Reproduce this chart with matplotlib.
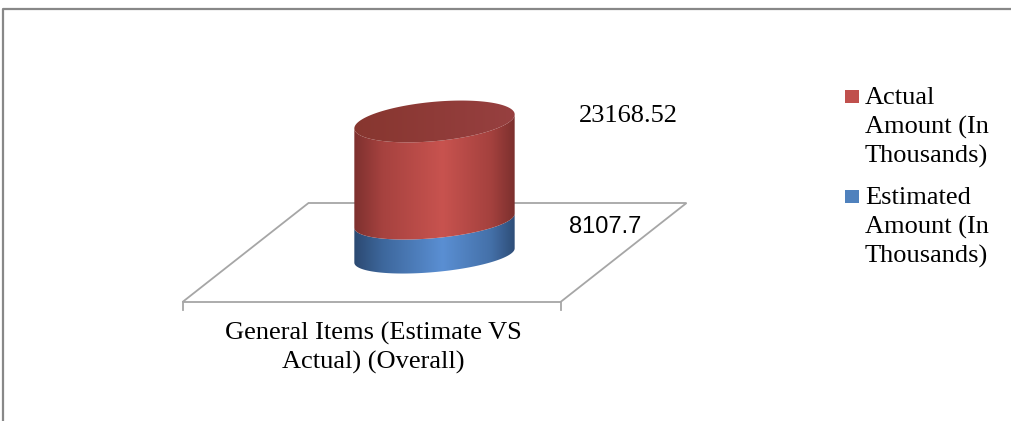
import numpy as np
import matplotlib
matplotlib.use('Agg')
import matplotlib.pyplot as plt
from matplotlib.patches import Polygon, Rectangle
from matplotlib.colors import LinearSegmentedColormap

# chart data
category = ["General Items (Estimate VS", "Actual) (Overall)"]
series = [["Estimated", "Amount (In", "Thousands)"], ["Actual", "Amount (In", "Thousands)"]]
values = [8107.7, 23168.52]
value_labels = ["8107.7", "23168.52"]
axis_max = 35000.0

side_maps = [
    LinearSegmentedColormap.from_list('blue_side', [(0, '#2B4870'), (0.18, '#3D679C'), (0.55, '#5A8FD3'), (0.85, '#4470A8'), (1, '#2D4C76')]),
    LinearSegmentedColormap.from_list('red_side', [(0, '#7C302E'), (0.18, '#A6423F'), (0.55, '#C8534F'), (0.85, '#A4413E'), (1, '#7A2F2D')]),
]
top_map = LinearSegmentedColormap.from_list('red_top', ['#87362F', '#8F3B38', '#974040'])
legend_colors = ['#4F81BD', '#C0504D']

W, H = 1011, 421
fig = plt.figure(figsize=(W / 100, H / 100), dpi=100)
ax = fig.add_axes([0, 0, 1, 1])
ax.set_xlim(0, W)
ax.set_ylim(H, 0)
ax.axis('off')

# outer chart frame
ax.plot([3, 3, W], [H, 9, 9], color='#888888', lw=1.6, solid_capstyle='butt')

# floor of the 3d plot
cx = 434.5
floor_half = 189.0
depth_dx = 63.0
floor_back, floor_front = 203.0, 302.0
floor = [(cx + depth_dx - floor_half, floor_back), (cx + depth_dx + floor_half, floor_back),
         (cx - depth_dx + floor_half, floor_front), (cx - depth_dx - floor_half, floor_front)]
ax.add_patch(Polygon(floor, closed=True, fill=False, edgecolor='#A6A6A6', lw=1.3, zorder=1))
for fx, fy in floor[2:]:
    ax.plot([fx, fx], [fy, fy + 8], color='#A6A6A6', lw=1.3, zorder=1)

# cylinder geometry
base_y = 255.5
plot_height = 150.0
px_per_unit = plot_height / axis_max
a = 80.5
phi = np.deg2rad(5.3)


def minor_axis(y):
    # ellipse flattens a little toward the floor
    return 16.5 + (base_y - y) / plot_height * 3.5


def front_arc(cy, b, reverse=False):
    t0 = np.arctan2(b * np.sin(phi), a * np.cos(phi))
    t = np.linspace(t0, t0 + np.pi, 120)
    if reverse:
        t = t[::-1]
    x = cx + a * np.cos(t) * np.cos(phi) + b * np.sin(t) * np.sin(phi)
    y = cy - a * np.cos(t) * np.sin(phi) + b * np.sin(t) * np.cos(phi)
    return np.column_stack([x, y])


def full_ellipse(cy, b):
    t = np.linspace(0, 2 * np.pi, 240)
    x = cx + a * np.cos(t) * np.cos(phi) + b * np.sin(t) * np.sin(phi)
    y = cy - a * np.cos(t) * np.sin(phi) + b * np.sin(t) * np.cos(phi)
    return np.column_stack([x, y])


grad = np.linspace(0, 1, 256).reshape(1, -1)
cum = np.cumsum([0] + values)
for i, v in enumerate(values):
    y0 = base_y - cum[i] * px_per_unit
    y1 = base_y - cum[i + 1] * px_per_unit
    pts = np.vstack([front_arc(y0, minor_axis(y0), reverse=True), front_arc(y1, minor_axis(y1))])
    clip = Polygon(pts, closed=True, transform=ax.transData, facecolor='none', edgecolor='none')
    ax.add_patch(clip)
    im = ax.imshow(grad, cmap=side_maps[i], aspect='auto', interpolation='bilinear',
                   extent=[cx - a - 1, cx + a + 1, y0 + 30, y1 - 30], zorder=2 + i)
    im.set_clip_path(clip)

# top face
y_top = base_y - cum[-1] * px_per_unit
top = Polygon(full_ellipse(y_top, minor_axis(y_top)), closed=True, transform=ax.transData,
              facecolor='none', edgecolor='none')
ax.add_patch(top)
im = ax.imshow(grad, cmap=top_map, aspect='auto', interpolation='bilinear',
               extent=[cx - a - 1, cx + a + 1, y_top + 30, y_top - 30], zorder=5)
im.set_clip_path(top)
ax.set_xlim(0, W)
ax.set_ylim(H, 0)

# data labels
ax.text(cx + 170.5, base_y - cum[1] * px_per_unit + 12, value_labels[0], ha='center', va='baseline',
        fontsize=17, family='Liberation Sans', color='black', zorder=6)
ax.text(cx + 193.5, base_y - cum[2] * px_per_unit + 0.5, value_labels[1], ha='center', va='baseline',
        fontsize=19, family='Liberation Serif', color='black', zorder=6)

# category label
for j, line in enumerate(category):
    ax.text(cx - depth_dx + 2, 340 + 28.5 * j, line, ha='center', va='baseline', fontsize=19,
            family='Liberation Serif')

# legend, last series first
for k, i in enumerate(reversed(range(len(series)))):
    by = 104 + k * 100
    ax.add_patch(Rectangle((845, by - 14), 14, 13, facecolor=legend_colors[i], edgecolor='none'))
    for j, line in enumerate(series[i]):
        ax.text(865, by + 29.5 * j, line, ha='left', va='baseline', fontsize=19,
                family='Liberation Serif')

fig.savefig('out.png', dpi=100)
